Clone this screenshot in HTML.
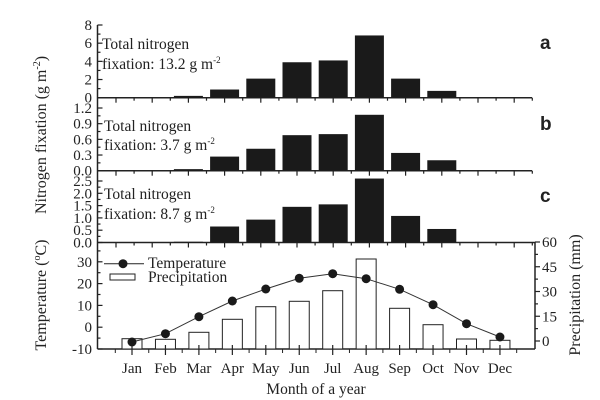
<!DOCTYPE html>
<html><head><meta charset="utf-8"><style>
body{margin:0;background:#fff}
svg{display:block}
svg text{font-family:"Liberation Serif","DejaVu Serif",serif;fill:#222}
</style></head><body>
<svg width="600" height="400" viewBox="0 0 600 400" xmlns="http://www.w3.org/2000/svg" font-family="Liberation Serif, serif">
<g stroke="#222" stroke-width="1.5" fill="none">
<line x1="97.5" y1="25" x2="97.5" y2="349"/>
<line x1="97.5" y1="97.7" x2="532" y2="97.7"/>
<line x1="97.5" y1="170.7" x2="532" y2="170.7"/>
<line x1="97.5" y1="242.5" x2="535" y2="242.5"/>
<line x1="97.5" y1="349" x2="535" y2="349"/>
<line x1="535" y1="242" x2="535" y2="349"/>
</g>
<g id="ticks" stroke="#222" stroke-width="1.2"></g>
<g id="bars" fill="#1a1a1a"></g>
<g id="labels" font-size="15" font-family="Liberation Serif, serif"></g>
<g font-family="Liberation Serif, serif" font-size="15.5">
<text x="102" y="49">Total nitrogen</text>
<text x="102" y="69">fixation: 13.2 g m<tspan dy="-6" font-size="9">-2</tspan></text>
<text x="104" y="131">Total nitrogen</text>
<text x="104" y="150">fixation: 3.7 g m<tspan dy="-6" font-size="9">-2</tspan></text>
<text x="104" y="199">Total nitrogen</text>
<text x="104" y="219">fixation: 8.7 g m<tspan dy="-6" font-size="9">-2</tspan></text>
</g>
<text x="540" y="49" font-size="19" font-weight="bold" font-family="Liberation Sans, sans-serif" style="font-family:'Liberation Sans',sans-serif">a</text>
<text x="540" y="130" font-size="19" font-weight="bold" font-family="Liberation Sans, sans-serif" style="font-family:'Liberation Sans',sans-serif">b</text>
<text x="540" y="202" font-size="19" font-weight="bold" font-family="Liberation Sans, sans-serif" style="font-family:'Liberation Sans',sans-serif">c</text>
<g font-family="Liberation Serif, serif">
<text transform="translate(46,135) rotate(-90)" text-anchor="middle" font-size="16">Nitrogen fixation (g m<tspan dy="-6" font-size="10">-2</tspan><tspan dy="6">)</tspan></text>
<text transform="translate(46,295) rotate(-90)" text-anchor="middle" font-size="16">Temperature (<tspan dy="-6" font-size="10">o</tspan><tspan dy="6">C)</tspan></text>
<text transform="translate(580,295) rotate(-90)" text-anchor="middle" font-size="16">Precipitation (mm)</text>
<text x="316" y="394" text-anchor="middle" font-size="15.5">Month of a year</text>
<text x="148" y="268" font-size="15.5">Temperature</text>
<text x="148" y="282" font-size="15.5">Precipitation</text>
</g>
<line x1="104" y1="263.7" x2="144" y2="263.7" stroke="#222" stroke-width="1"/>
<circle cx="123" cy="263.7" r="4.5" fill="#1a1a1a"/>
<rect x="110" y="274" width="25" height="6" fill="#fff" stroke="#222" stroke-width="1"/>
<g id="bottom" font-family="Liberation Serif, serif"></g>
</svg>
<script>
var NS="http://www.w3.org/2000/svg";
function el(p,t,a,txt){var e=document.createElementNS(NS,t);for(var k in a)e.setAttribute(k,a[k]);if(t=="text")e.setAttribute("font-family","Liberation Serif, serif");if(txt!==undefined)e.textContent=txt;document.getElementById(p).appendChild(e);return e;}
var ticks="ticks",bars="bars",labels="labels";
var panels=[
 {y0:97.7,top:25,max:8,step:2,minor:1,fmt:0,vals:[0,0,0.2,0.9,2.1,3.9,4.1,6.85,2.1,0.75,0,0]},
 {y0:170.7,top:108,max:1.2,step:0.3,minor:0.15,fmt:1,vals:[0,0,0.03,0.27,0.42,0.68,0.7,1.07,0.34,0.2,0,0]},
 {y0:242.5,top:181,max:2.5,step:0.5,minor:0.25,fmt:1,vals:[0,0,0.03,0.65,0.93,1.45,1.55,2.6,1.08,0.55,0,0]}];
panels.forEach(function(p){
 var s=(p.y0-p.top)/p.max;
 for(var v=0;v<=p.max+1e-9;v+=p.minor){var y=p.y0-v*s;var maj=Math.abs(v/p.step-Math.round(v/p.step))<1e-6;
  el(ticks,"line",{x1:97.5,x2:97.5+(maj?5:3),y1:y,y2:y});
  if(maj)el(labels,"text",{x:92,y:y+5,"text-anchor":"end","font-size":15},v.toFixed(p.fmt));}
 for(var m=0;m<12;m++){var cx=116+m*36.2;
  el(ticks,"line",{x1:cx,x2:cx,y1:p.y0,y2:p.y0+5});
  el(ticks,"line",{x1:cx+18.1,x2:cx+18.1,y1:p.y0,y2:p.y0+3});
  if(p.vals[m]>0){var h=p.vals[m]*s;el(bars,"rect",{x:cx-14.5,y:p.y0-h,width:29,height:h});}}
});
var b="bottom";
var mon=["Jan","Feb","Mar","Apr","May","Jun","Jul","Aug","Sep","Oct","Nov","Dec"];
var ptop=[338.7,339.3,332.3,319.3,306.7,301.3,290.7,259,308.3,324.7,339,340.3];
var ty=[342,333.7,316.7,301,289,278.3,273.7,278.7,289.3,304.7,323.7,337];
var pts=[];
for(var m=0;m<12;m++){var cx=132+m*33.45;
 el(b,"rect",{x:cx-10,y:ptop[m],width:20,height:349-ptop[m],fill:"#fff",stroke:"#222","stroke-width":1});
 el(b,"line",{x1:cx,x2:cx,y1:349,y2:355,stroke:"#222","stroke-width":1.2});
 el(b,"line",{x1:cx,x2:cx,y1:349,y2:345,stroke:"#222","stroke-width":1.2});
 el(b,"line",{x1:cx-16.7,x2:cx-16.7,y1:349,y2:353,stroke:"#222","stroke-width":1});
 el(b,"text",{x:cx,y:373,"text-anchor":"middle","font-size":15},mon[m]);
 pts.push(cx+","+ty[m]);}
el(b,"line",{x1:132+11.5*33.45,x2:132+11.5*33.45,y1:349,y2:353,stroke:"#222","stroke-width":1});
el(b,"polyline",{points:pts.join(" "),fill:"none",stroke:"#333","stroke-width":1});
for(var m=0;m<12;m++){el(b,"circle",{cx:132+m*33.45,cy:ty[m],r:4.5,fill:"#1a1a1a"});}
for(var v=-10;v<=40;v+=5){var y=327.2-v*2.18;if(y<242)continue;var maj=v%10==0;
 el(b,"line",{x1:97.5,x2:97.5+(maj?5:3),y1:y,y2:y,stroke:"#222","stroke-width":1.2});
 if(maj)el(b,"text",{x:92,y:y+5,"text-anchor":"end","font-size":15},String(v));}
for(var v=-7.5;v<=60;v+=7.5){var y=341-v*1.65;if(y>349)continue;var maj=v%15==0;
 el(b,"line",{x1:535,x2:535+(maj?5:3),y1:y,y2:y,stroke:"#222","stroke-width":1.2});
 if(maj)el(b,"text",{x:542,y:y+5,"font-size":15},String(v));}
</script>
</body></html>
